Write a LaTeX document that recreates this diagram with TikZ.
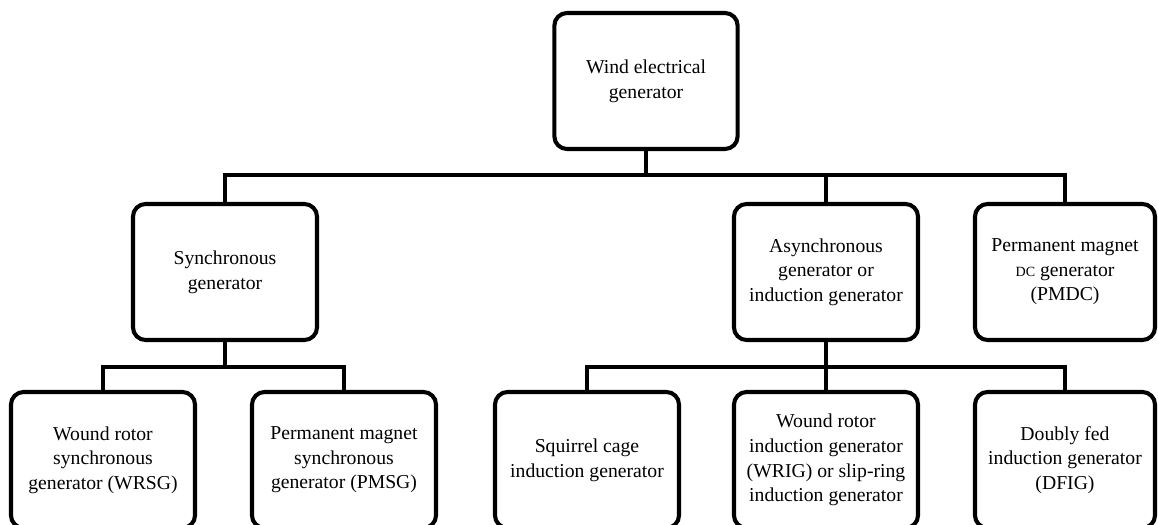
\documentclass[tikz,border=0pt]{standalone}
\usepackage{fontspec}
\setmainfont{Liberation Serif}

\tikzset{
  genbox/.style={draw,line width=2.9pt,rounded corners=9pt,align=center,
    minimum width=4.6cm,minimum height=3.4cm,inner sep=2pt,
    font=\fontsize{14}{17.5}\selectfont},
  link/.style={line width=2.9pt}
}

\begin{document}
\begin{tikzpicture}[x=0.025cm,y=-0.025cm]
  \useasboundingbox[fill=white] (0,0) rectangle (1158,525);
  \node[genbox,minimum width=4.58cm] (root) at (646,81) {Wind electrical\\generator};
  \node[genbox] (sync) at (225,272) {Synchronous\\generator};
  \node[genbox] (async) at (826,272) {Asynchronous\\generator or\\induction generator};
  \node[genbox,minimum width=4.5cm] (pmdc) at (1065,272) {Permanent magnet\\{\fontsize{10}{17.5}\selectfont DC} generator\\(PMDC)};
  \node[genbox] (wrsg) at (103,460) {Wound rotor\\synchronous\\generator (WRSG)};
  \node[genbox] (pmsg) at (344,460) {Permanent magnet\\synchronous\\generator (PMSG)};
  \node[genbox] (scig) at (587,460) {Squirrel cage\\induction generator};
  \node[genbox] (wrig) at (826,460) {Wound rotor\\induction generator\\(WRIG) or slip-ring\\induction generator};
  \node[genbox,minimum width=4.5cm] (dfig) at (1065,460) {Doubly fed\\induction generator\\(DFIG)};
  \coordinate (b0) at (646,175);
  \coordinate (b1) at (225,367);
  \coordinate (b2) at (826,367);
  \draw[link] (root) -- (b0);
  \draw[link] (sync) -- (b1);
  \draw[link] (async) -- (b2);
  \foreach \n in {sync,async,pmdc}{
    \draw[link] (b0) -| (\n);
  }
  \foreach \n in {wrsg,pmsg}{
    \draw[link] (b1) -| (\n);
  }
  \foreach \n in {scig,wrig,dfig}{
    \draw[link] (b2) -| (\n);
  }
\end{tikzpicture}
\end{document}
